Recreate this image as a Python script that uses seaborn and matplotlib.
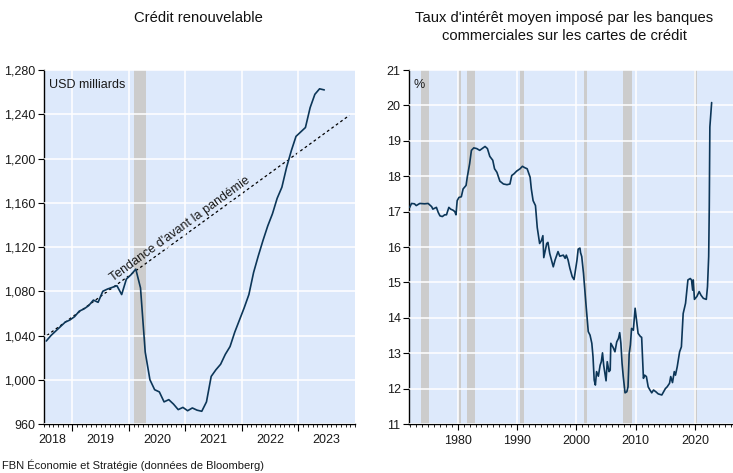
import numpy as np
import matplotlib
matplotlib.use("Agg")
import matplotlib.pyplot as plt
import matplotlib.transforms as mtransforms
from matplotlib.ticker import FixedLocator, FuncFormatter, MultipleLocator
import pandas as pd
import seaborn as sns

# ---- data: revolving credit (USD bn), monthly from mid-2018
credit_start = 2018.54
credit_values = [
    1035, 1040, 1044, 1048, 1052, 1054, 1057, 1062, 1064, 1067,
    1072, 1070, 1080, 1082, 1083.5, 1085, 1077, 1091, 1095, 1100,
    1083, 1025, 1000, 991, 989, 980, 982, 978, 973, 975,
    972, 974.5, 972.5, 971.5, 980, 1003, 1009, 1014, 1023, 1030,
    1043, 1054, 1065, 1077, 1097, 1112, 1126, 1139, 1150, 1164,
    1174, 1192, 1207, 1220, 1224, 1228, 1246, 1258, 1263, 1262,
]
trend_years = [2018.55, 2023.9]
trend_values = [1040, 1239]
credit_recessions = [(2020.1, 2020.3)]
credit_year_labels = [2018, 2019, 2020, 2021, 2022, 2023]

# ---- data: average credit card rate (%)
rate_years = [
    1971.9, 1972.2, 1972.7, 1973.0, 1973.6, 1974.4, 1975.0, 1975.6, 1975.8, 1976.4,
    1976.7, 1977.0, 1977.4, 1977.8, 1978.1, 1978.5, 1978.8, 1979.2, 1979.5, 1979.7,
    1979.9, 1980.2, 1980.6, 1980.9, 1981.4, 1981.6, 1982.0, 1982.3, 1982.7, 1983.2,
    1983.7, 1984.1, 1984.6, 1985.0, 1985.4, 1985.9, 1986.2, 1986.6, 1987.1, 1987.7,
    1988.3, 1988.8, 1989.1, 1989.5, 1989.9, 1990.5, 1990.9, 1991.3, 1991.7, 1992.2,
    1992.4, 1992.7, 1993.1, 1993.4, 1993.8, 1994.1, 1994.35, 1994.5, 1995.0, 1995.2,
    1995.5, 1996.1, 1996.4, 1996.9, 1997.2, 1997.8, 1998.1, 1998.3, 1998.6, 1998.9,
    1999.3, 1999.6, 1999.9, 2000.1, 2000.3, 2000.6, 2000.7, 2000.9, 2001.2, 2001.6,
    2002.0, 2002.3, 2002.6, 2002.8, 2003.0, 2003.2, 2003.4, 2003.7, 2004.0, 2004.2,
    2004.4, 2004.6, 2005.0, 2005.2, 2005.5, 2005.7, 2005.8, 2006.2, 2006.5, 2006.8,
    2007.1, 2007.3, 2007.5, 2007.7, 2007.9, 2008.2, 2008.5, 2008.7, 2008.9, 2009.1,
    2009.3, 2009.6, 2009.9, 2010.2, 2010.4, 2010.8, 2011.0, 2011.3, 2011.5, 2011.8,
    2012.1, 2012.4, 2012.7, 2013.0, 2013.4, 2013.8, 2014.4, 2014.7, 2015.0, 2015.3,
    2015.7, 2015.9, 2016.2, 2016.5, 2016.7, 2017.0, 2017.4, 2017.7, 2018.0, 2018.4,
    2018.8, 2019.2, 2019.4, 2019.6, 2019.7, 2019.9, 2020.3, 2020.7, 2021.0, 2021.4,
    2021.9, 2022.1, 2022.3, 2022.4, 2022.5, 2022.8,
]
rate_values = [
    17.12, 17.23, 17.22, 17.17, 17.23, 17.22, 17.23, 17.14, 17.07, 17.12,
    16.98, 16.88, 16.86, 16.91, 16.91, 17.12, 17.07, 17.04, 17.00, 16.91,
    17.31, 17.40, 17.42, 17.64, 17.74, 17.97, 18.35, 18.73, 18.80, 18.78,
    18.73, 18.78, 18.84, 18.78, 18.56, 18.45, 18.21, 18.11, 17.86, 17.78,
    17.76, 17.78, 18.02, 18.07, 18.14, 18.21, 18.28, 18.24, 18.21, 17.97,
    17.64, 17.31, 17.17, 16.55, 16.10, 16.18, 16.32, 15.70, 16.10, 16.13,
    15.82, 15.44, 15.63, 15.87, 15.74, 15.77, 15.68, 15.77, 15.63, 15.40,
    15.16, 15.08, 15.40, 15.63, 15.94, 15.97, 15.84, 15.73, 15.25, 14.41,
    13.61, 13.51, 13.28, 12.90, 12.24, 12.10, 12.48, 12.35, 12.66, 12.76,
    13.01, 12.66, 12.22, 12.76, 12.48, 12.52, 13.28, 13.16, 13.04, 13.32,
    13.42, 13.58, 13.28, 12.71, 12.34, 11.88, 11.91, 12.05, 12.99, 13.23,
    13.70, 13.65, 14.27, 13.84, 13.56, 13.47, 13.45, 12.29, 12.38, 12.34,
    12.05, 11.96, 11.88, 11.96, 11.91, 11.85, 11.82, 11.91, 12.00, 12.05,
    12.15, 12.34, 12.17, 12.48, 12.38, 12.62, 13.04, 13.18, 14.12, 14.41,
    15.07, 15.11, 15.07, 14.78, 15.07, 14.52, 14.60, 14.74, 14.64, 14.55,
    14.52, 14.88, 15.73, 17.12, 19.39, 20.08,
]
rate_recessions = [
    (1973.85, 1975.2), (1980.0, 1980.5), (1981.5, 1982.85), (1990.5, 1991.2),
    (2001.2, 2001.85), (2007.9, 2009.45), (2019.9, 2020.35),
]

BG = "#dde9fb"
LINE = "#0c3658"
REC = "#cccccc"

sns.set_theme(style="darkgrid", rc={
    "axes.facecolor": BG,
    "grid.color": "white",
    "grid.linewidth": 1.1,
    "axes.edgecolor": "black",
    "xtick.bottom": True,
    "ytick.left": True,
})
plt.rcParams["font.family"] = ["Liberation Sans", "DejaVu Sans"]
plt.rcParams["font.size"] = 9

W, H = 733, 473
fig = plt.figure(figsize=(W / 100, H / 100), dpi=100)
ax1 = fig.add_axes([44 / W, 1 - 424 / H, (355 - 44) / W, (424 - 70) / H])
ax2 = fig.add_axes([409 / W, 1 - 424 / H, (733 - 409) / W, (424 - 70) / H])


def styleAxis(ax):
    for side in ["top", "right"]:
        ax.spines[side].set_visible(False)
    for side in ["left", "bottom"]:
        ax.spines[side].set_visible(True)
        ax.spines[side].set_color("black")
        ax.spines[side].set_linewidth(1.0)
    ax.tick_params(axis="both", which="major", direction="out", length=4,
                   width=0.8, color="black", labelsize=9, pad=2,
                   labelcolor="#1a1a1a")
    ax.tick_params(axis="x", which="minor", direction="out", length=2.2,
                   width=0.6, color="black", bottom=True)
    ax.grid(True, which="major", color="white", linewidth=1.1, zorder=1)
    ax.grid(False, which="minor")
    ax.set_axisbelow(False)
    ax.set_xlabel("")
    ax.set_ylabel("")


# ---- left panel
creditDf = pd.DataFrame({
    "year": credit_start + np.arange(len(credit_values)) / 12,
    "value": credit_values,
})
for a, b in credit_recessions:
    ax1.axvspan(a, b, color=REC, lw=0, zorder=0.5)
sns.lineplot(data=creditDf, x="year", y="value", ax=ax1, color=LINE,
             linewidth=1.2, zorder=3)
ax1.plot(trend_years, trend_values, color="black", linestyle=(0, (2.2, 2.2)),
         linewidth=0.9, zorder=2.5)
ax1.set_xlim(2018.5, 2024.0)
ax1.set_ylim(960, 1280)
ax1.yaxis.set_major_locator(MultipleLocator(40))
ax1.yaxis.set_major_formatter(FuncFormatter(lambda v, p: f"{int(v):,}"))
ax1.xaxis.set_major_locator(FixedLocator([2019, 2020, 2021, 2022, 2023]))
ax1.xaxis.set_minor_locator(FixedLocator(2018.5 + np.arange(67) / 12))
ax1.xaxis.set_major_formatter(FuncFormatter(lambda v, p: ""))
styleAxis(ax1)
ax1.tick_params(axis="x", which="major", length=5)

# year labels centred in each year (first one in the visible half-year)
blend1 = mtransforms.blended_transform_factory(ax1.transData, ax1.transAxes)
for yr in credit_year_labels:
    xc = 2018.65 if yr == 2018 else yr + 0.5
    ax1.text(xc, -0.028, str(yr), transform=blend1, ha="center", va="top",
             fontsize=9, color="#1a1a1a")

ax1.text(0.015, 0.975, "USD milliards", transform=ax1.transAxes, ha="left",
         va="top", fontsize=9, color="#1a1a1a")

# trend label along the dashed line
pts = ax1.transData.transform(np.column_stack([trend_years, trend_values]))
angle = np.degrees(np.arctan2(pts[1, 1] - pts[0, 1], pts[1, 0] - pts[0, 0]))
lx = 2020.98
ly = np.interp(lx, trend_years, trend_values)
ax1.annotate("Tendance d'avant la pandémie", xy=(lx, ly), xytext=(-3, 4.3),
             textcoords="offset points", rotation=angle,
             rotation_mode="anchor", ha="center", va="center", fontsize=9,
             color="#1a1a1a", zorder=4)

# ---- right panel
rateDf = pd.DataFrame({"year": rate_years, "value": rate_values})
for a, b in rate_recessions:
    ax2.axvspan(a, b, color=REC, lw=0, zorder=0.5)
sns.lineplot(data=rateDf, x="year", y="value", ax=ax2, color=LINE,
             linewidth=1.2, zorder=3)
ax2.set_xlim(1971.78, 2026.4)
ax2.set_ylim(11, 21)
ax2.yaxis.set_major_locator(MultipleLocator(1))
ax2.xaxis.set_major_locator(FixedLocator([1980, 1990, 2000, 2010, 2020]))
ax2.xaxis.set_minor_locator(FixedLocator(np.arange(1972, 2027)))
ax2.xaxis.set_major_formatter(FuncFormatter(lambda v, p: f"{int(v)}"))
styleAxis(ax2)
ax2.tick_params(axis="x", which="major", length=4, pad=4)
ax2.text(0.015, 0.975, "%", transform=ax2.transAxes, ha="left", va="top",
         fontsize=9, color="#1a1a1a")

# ---- titles and source
fig.text(198 / W, 1 - 18 / H, "Crédit renouvelable", ha="center",
         va="center", fontsize=10.6, color="#111111")
fig.text(564 / W, 1 - 27 / H,
         "Taux d'intérêt moyen imposé par les banques\n"
         "commerciales sur les cartes de crédit",
         ha="center", va="center", fontsize=10.6, color="#111111",
         linespacing=1.3)
fig.text(2 / W, 1 - 465 / H, "FBN Économie et Stratégie (données de Bloomberg)",
         ha="left", va="center", fontsize=8, color="#1a1a1a")

fig.savefig("out.png", dpi=100)
